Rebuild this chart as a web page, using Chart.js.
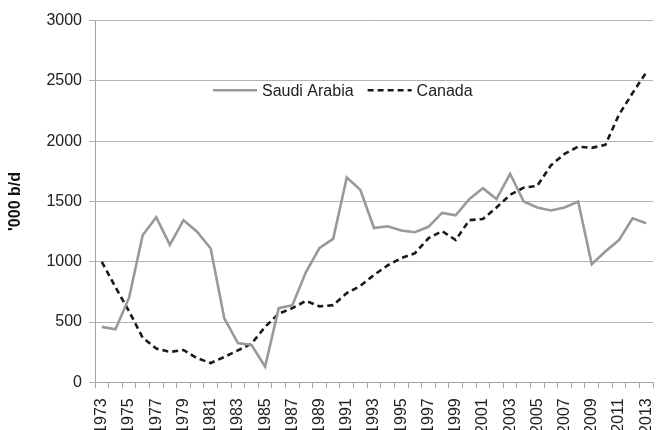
<!DOCTYPE html>
<html>
<head>
<meta charset="utf-8">
<script src="https://cdn.jsdelivr.net/npm/chart.js@4"></script>
<style>
html,body{margin:0;padding:0;background:#fff;}
#wrap{position:relative;width:656px;height:430px;}
</style>
</head>
<body>
<div id="wrap"><canvas id="c" width="656" height="430"></canvas></div>
<script>
const years = ['1973','1974','1975','1976','1977','1978','1979','1980','1981','1982','1983','1984','1985','1986','1987','1988','1989','1990','1991','1992','1993','1994','1995','1996','1997','1998','1999','2000','2001','2002','2003','2004','2005','2006','2007','2008','2009','2010','2011','2012','2013'];
const saudiArabia = [460,440,700,1220,1370,1140,1345,1250,1110,530,325,310,130,615,640,915,1115,1190,1700,1595,1280,1295,1260,1245,1290,1405,1385,1520,1610,1520,1730,1500,1450,1425,1450,1500,980,1085,1180,1360,1320];
const canada = [1000,790,590,370,280,252,268,200,160,210,265,320,460,570,615,675,630,640,740,800,890,970,1030,1070,1195,1255,1180,1345,1355,1450,1555,1615,1630,1800,1895,1955,1945,1970,2220,2400,2570];
const yTicks = [0,500,1000,1500,2000,2500,3000];
const seriesNames = ['Saudi Arabia','Canada'];
const yTitle = "'000 b/d";

const FONT = 'Liberation Sans, Arial, sans-serif';

const legendPlugin = {
  id: 'inlineLegend',
  afterDraw(chart) {
    const ctx = chart.ctx;
    const a = chart.chartArea;
    const y = a.top + 69.5;
    ctx.save();
    ctx.font = '16px ' + FONT;
    ctx.textBaseline = 'middle';
    ctx.fillStyle = '#222';
    let x = a.left + 118;
    chart.data.datasets.forEach((ds, i) => {
      ctx.beginPath();
      ctx.strokeStyle = ds.borderColor;
      ctx.lineWidth = ds.borderWidth;
      ctx.setLineDash(ds.borderDash || []);
      ctx.moveTo(x, y);
      ctx.lineTo(x + 44, y);
      ctx.stroke();
      ctx.setLineDash([]);
      ctx.fillText(ds.label, x + 49, y + 1);
      x += 49 + ctx.measureText(ds.label).width + 14;
    });
    ctx.restore();
  }
};

new Chart(document.getElementById('c'), {
  type: 'line',
  data: {
    labels: years,
    datasets: [
      { label: seriesNames[0], data: saudiArabia, borderColor: '#999999', borderWidth: 2.6, pointRadius: 0, tension: 0, fill: false },
      { label: seriesNames[1], data: canada, borderColor: '#1a1a1a', borderWidth: 2.6, borderDash: [6, 4], pointRadius: 0, tension: 0, fill: false }
    ]
  },
  options: {
    responsive: false,
    animation: false,
    devicePixelRatio: 1,
    layout: { padding: { top: 20.7, right: 3, left: 0, bottom: 0 } },
    plugins: { legend: { display: false }, tooltip: { enabled: false } },
    scales: {
      x: {
        type: 'category',
        offset: true,
        grid: { offset: true, drawOnChartArea: false, drawTicks: true, tickLength: 6, color: '#a6a6a6', lineWidth: 1 },
        border: { display: true, color: '#a6a6a6', width: 1 },
        ticks: {
          autoSkip: false,
          maxRotation: 90, minRotation: 90,
          padding: 10,
          color: '#222',
          font: { family: FONT, size: 16 },
          callback: function(v, i) { return (i % 2 === 0) ? years[i] : ''; }
        },
        afterFit(scale) { scale.height = 47.7; scale.paddingLeft = 0; scale.paddingRight = 0; }
      },
      y: {
        min: 0, max: 3000,
        afterBuildTicks(scale) { scale.ticks = yTicks.map(v => ({ value: v })); },
        grid: { color: '#b3b3b3', lineWidth: 1, drawTicks: true, tickLength: 6 },
        border: { display: true, color: '#a6a6a6', width: 1 },
        ticks: { color: '#222', padding: 7, font: { family: FONT, size: 16 }, callback: v => String(v) },
        title: { display: true, text: yTitle, color: '#111', font: { family: FONT, size: 16, weight: 'bold' }, padding: { top: 6, bottom: 0 } },
        afterFit(scale) { scale.width = 95; scale.paddingTop = 0; scale.paddingBottom = 0; }
      }
    }
  },
  plugins: [legendPlugin]
});
</script>
</body>
</html>
